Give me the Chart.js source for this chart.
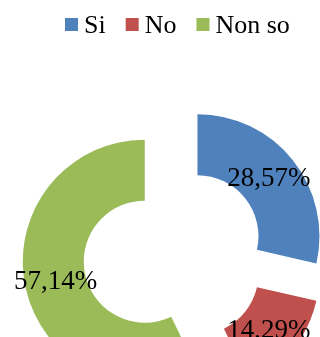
<!DOCTYPE html>
<html>
<head>
<meta charset="utf-8">
<title>Risposte</title>
<script src="https://cdn.jsdelivr.net/npm/chart.js@4"></script>
<style>
    html, body { margin: 0; padding: 0; background: #fff; overflow: hidden; }
    .chart-box { position: relative; width: 320px; height: 337px; }
</style>
</head>
<body>
<div class="chart-box"><canvas id="answersChart"></canvas></div>
<script>
// Answers and their share of the total (percent)
const answerLabels = ['Si', 'No', 'Non so'];
const answerShares = [28.57, 14.29, 57.14];
const answerColors = ['#4f81bd', '#c0504d', '#9bbb59'];

const sliceGap = 30;      // how far each slice is pulled out from the centre
const serif = '"Liberation Serif", "Times New Roman", serif';

function formatShare(value) {
    return value.toFixed(2).replace('.', ',') + '%';
}

// Pull every slice outwards along its middle angle
const explodeSlices = {
    id: 'explodeSlices',
    afterDatasetUpdate: function(chart, args) {
        args.meta.data.forEach(function(arc) {
            const mid = (arc.startAngle + arc.endAngle) / 2;
            arc.x += Math.cos(mid) * sliceGap;
            arc.y += Math.sin(mid) * sliceGap;
        });
    }
};

// Percent text in the middle of each ring segment
const shareLabels = {
    id: 'shareLabels',
    afterDatasetsDraw: function(chart) {
        const ctx = chart.ctx;
        const meta = chart.getDatasetMeta(0);
        ctx.save();
        ctx.font = '27px ' + serif;
        ctx.fillStyle = '#000';
        ctx.textAlign = 'center';
        ctx.textBaseline = 'middle';
        meta.data.forEach(function(arc, i) {
            const pos = arc.tooltipPosition();
            ctx.fillText(formatShare(answerShares[i]), pos.x, pos.y);
        });
        ctx.restore();
    }
};

// Single-row legend along the top: small square, tight gap, then the label
const topLegend = {
    id: 'topLegend',
    afterDraw: function(chart) {
        const ctx = chart.ctx;
        const box = 13, textGap = 6, itemGap = 20;
        const centerX = 177, baseline = 33;
        ctx.save();
        ctx.font = '26px ' + serif;
        ctx.textBaseline = 'alphabetic';
        const widths = chart.data.labels.map(function(l) { return ctx.measureText(l).width; });
        let total = 0;
        widths.forEach(function(w, i) {
            total += box + textGap + w + (i < widths.length - 1 ? itemGap : 0);
        });
        let x = Math.round(centerX - total / 2);
        chart.data.labels.forEach(function(label, i) {
            ctx.fillStyle = chart.data.datasets[0].backgroundColor[i];
            ctx.fillRect(x, 18, box, box);
            ctx.fillStyle = '#000';
            ctx.fillText(label, x + box + textGap, baseline);
            x += box + textGap + widths[i] + itemGap;
        });
        ctx.restore();
    }
};

const ctx = document.getElementById('answersChart').getContext('2d');
const answersChart = new Chart(ctx, {
    type: 'doughnut',
    data: {
        labels: answerLabels,
        datasets: [{
            data: answerShares,
            backgroundColor: answerColors,
            borderWidth: 0
        }]
    },
    options: {
        responsive: true,
        maintainAspectRatio: false,
        animation: false,
        radius: 122,
        cutout: '50%',
        layout: {
            padding: { left: 28, right: 0, top: 173, bottom: 0 }
        },
        plugins: {
            legend: { display: false },
            tooltip: { enabled: false }
        }
    },
    plugins: [explodeSlices, shareLabels, topLegend]
});
</script>
</body>
</html>
